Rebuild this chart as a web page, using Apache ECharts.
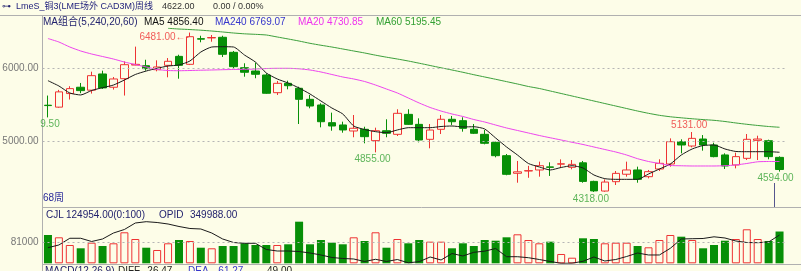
<!DOCTYPE html>
<html><head><meta charset="utf-8">
<script src="https://cdn.jsdelivr.net/npm/echarts@6/dist/echarts.min.js"></script>
<style>html,body{margin:0;padding:0;background:#fdfde8;overflow:hidden}#c{width:801px;height:271px}</style>
</head><body><div id="c"></div>
<script>
// ---- data (weekly LME copper, 68 weeks) ----
const weeks = ['W01','W02','W03','W04','W05','W06','W07','W08','W09','W10','W11','W12','W13','W14','W15','W16','W17','W18','W19','W20','W21','W22','W23','W24','W25','W26','W27','W28','W29','W30','W31','W32','W33','W34','W35','W36','W37','W38','W39','W40','W41','W42','W43','W44','W45','W46','W47','W48','W49','W50','W51','W52','W53','W54','W55','W56','W57','W58','W59','W60','W61','W62','W63','W64','W65','W66','W67','W68'];
const opens  = [5495,5469,5653,5739,5699,5919,5739,5855,6040,6031,5977,6036,6158,6050,6398,6408,6417,6213,6004,5959,5905,5665,5792,5725,5575,5498,5258,5227,5145,5168,5014,5149,5100,5371,5235,5032,5168,5304,5285,5168,5100,4991,4810,4571,4602,4616,4658,4695,4652,4713,4461,4330,4457,4558,4616,4525,4629,4697,5000,4941,5036,4955,4820,4684,4774,5018,5013,4787];
const closes = [5490,5676,5720,5693,5896,5730,5851,6045,6050,5991,6014,6091,6036,6425,6392,6414,6186,6018,5942,5915,5657,5792,5760,5575,5484,5271,5213,5159,5182,5068,5149,5114,5385,5235,5023,5158,5304,5271,5181,5114,4978,4810,4557,4591,4607,4674,4652,4700,4692,4461,4332,4452,4570,4616,4489,4593,4706,5000,4955,5045,4955,4797,4670,4797,5032,5036,4797,4622];
const lows   = [5329.5,5460,5572,5658,5653,5716,5707,5626,6038,5964,5955,5874,5855,6040,6349,6357,6149,5996,5882,5861,5650,5634,5711,5240,5453,5195,5149,5122,5060,4978,4855,5060,5077,5227,4991,4910,5104,5227,5136,5104,4964,4788,4544,4443,4510,4525,4535,4650,4625,4443,4318,4320,4412,4525,4443,4502,4602,4661,4842,4923,4878,4788,4629,4638,4751,4751,4761,4594];
const highs  = [5626,5703,5753,5797,5950,5964,5878,6090,6290,6112,6104,6135,6180,6481,6438,6448,6438,6231,6064,6072,5928,5824,5828,5746,5634,5521,5394,5272,5362,5203,5190,5304,5440,5440,5317,5240,5362,5349,5331,5240,5158,5000,4833,4738,4672,4729,4720,4760,4751,4738,4470,4488,4602,4729,4661,4616,4761,5045,5032,5131,5090,4986,4842,4851,5104,5081,5027,4801];
const ma5  = [5828,5756,5661,5634,5695,5733,5769,5837,5912,5959,5996,6027,6041,6095,6217,6285,6289,6285,6176,6081,5932,5851,5796,5729,5647,5552,5457,5376,5213,5165,5136,5122,5159,5190,5190,5190,5206,5213,5200,5203,5172,5050,4928,4819,4704,4657,4616,4650,4674,4643,4548,4498,4489,4489,4489,4561,4629,4697,4819,4901,4948,4955,4901,4867,4864,4864,4864,4856.4];
const ma20 = [6400,6353,6285,6231,6190,6156,6122,6081,6047,6014,5980,5966,5963,5966,5970,5973,5977,5980,5982,5986,5993,5996,5996,5989,5973,5946,5912,5878,5851,5817,5769,5715,5661,5593,5525,5464,5416,5376,5342,5301,5267,5226,5186,5152,5118,5084,5053,5023,4992,4962,4928,4894,4860,4819,4769,4731,4704,4677,4673,4670,4670,4670,4674,4684,4704,4727,4731,4730.85];
const ma60 = ['-','-','-','-','-','-','-','-','-','-','-',6539,6529,6522,6513,6502,6489,6475,6464,6457,6448,6421,6394,6366,6335,6309,6285,6258,6231,6204,6174,6147,6122,6095,6065,6034,6003,5973,5942,5909,5878,5847,5815,5783,5749,5722,5688,5654,5620,5586,5552,5518,5484,5450,5416,5385,5358,5338,5324,5311,5300,5290,5274,5254,5236,5220,5206,5195.45];
const volumes = [111300,102200,72000,59000,81000,68000,78600,121900,95500,61300,52300,78600,91600,87700,61300,59000,68000,68000,78600,72000,72000,72000,74700,163600,74700,91600,81000,74700,102200,87700,121900,61300,95500,78600,91600,85000,85000,59000,78600,68000,91600,88900,102200,114000,91600,78600,85000,36600,22000,98300,95500,78600,81000,81000,68000,62900,91600,111300,104600,91600,59000,72000,88900,95500,133700,95500,87700,124954];
const opid = [314500,322100,340800,340800,331800,338800,355500,365300,383400,387100,384800,380600,373700,368100,366700,355500,338800,329000,326800,326800,309500,305300,305300,303900,299700,294200,287200,284400,283000,276000,282200,276000,281600,272400,275500,288600,280200,298300,291400,301700,304800,312300,289400,289400,286600,281600,276000,271000,271300,276600,288600,277400,281600,290000,299700,294200,294200,312900,338800,339600,340200,344900,341600,333200,329000,328500,330400,349988];
const priceTicks = [5000, 6000];
const volTicks = [81000];
// marked extremes: index, value, side
const markIdx = [13, 0, 30, 50, 59, 67];
const markSide = ['left', 'bottom', 'bottom', 'bottom', 'top', 'bottom'];

const BG = '#fdfde8', RED = '#ee3333', GRN = '#078f07', TXTG = '#36a336', NAVY = '#22226e';
const FONT = '"Liberation Sans","Noto Sans CJK SC",sans-serif';

const candleData = weeks.map((_, i) => [opens[i], closes[i], lows[i], highs[i]]);
const volData = weeks.map((_, i) => {
  const up = closes[i] >= opens[i];
  return { value: volumes[i], itemStyle: up ? { color: BG, borderColor: RED, borderWidth: 1 } : { color: GRN, borderColor: GRN, borderWidth: 0 } };
});
const markData = markIdx.map((idx, k) => {
  const side = markSide[k];
  const v = side === 'top' || side === 'left' ? highs[idx] : lows[idx];
  let txt = v.toFixed(2);
  let label = { position: side, distance: 2, color: side === 'bottom' ? TXTG : RED, fontSize: 10, fontFamily: FONT, offset: [-3, 0] };
  if (side === 'left') { txt = txt + '←-'; label.offset = [0, 5]; label.distance = 1; }
  if (idx === 0) { txt = txt.slice(-4); label.offset = [2, 0]; }
  if (idx === 67) { label.offset = [-4, 0]; }
  label.formatter = txt;
  return { value: [idx, v], label };
});

const dash = { color: '#b5b5b5', type: [2, 3], width: 1 };
const chart = echarts.init(document.getElementById('c'), null, { renderer: 'canvas' });
const txt = (x, y, text, fill, size) => ({ type: 'text', x, y, silent: true, style: { text, fill, font: (size || 10) + 'px ' + FONT, textVerticalAlign: 'middle', verticalAlign: 'middle' } });
const ln = (x1, y1, x2, y2, c) => ({ type: 'line', silent: true, shape: { x1, y1, x2, y2 }, style: { stroke: c || '#b0b0b0', lineWidth: 1 } });

chart.setOption({
  backgroundColor: BG,
  animation: false,
  grid: [
    { left: 42.5, right: 16, top: 28, height: 178 },
    { left: 42.5, right: 16, top: 221, height: 42.3 }
  ],
  xAxis: [
    { type: 'category', data: weeks, gridIndex: 0, boundaryGap: true, show: false },
    { type: 'category', data: weeks, gridIndex: 1, boundaryGap: true, show: false }
  ],
  yAxis: [
    { type: 'value', gridIndex: 0, min: 4127, max: 6543, show: false },
    { type: 'value', gridIndex: 1, min: 0, max: 166300, show: false },
    { type: 'value', gridIndex: 1, min: 271000, max: 389000, show: false }
  ],
  graphic: [
    ln(0, 15.5, 801, 15.5), ln(42.5, 15, 42.5, 271), ln(42, 207.5, 801, 207.5), ln(42, 264.5, 801, 264.5),
    ln(774.5, 183, 774.5, 207, '#56568e'),
    txt(2, 7, '⊶', NAVY, 9),
    txt(16, 7, 'LmeS_铜3(LME场外 CAD3M)周线', '#1e1e7a', 9),
    txt(162, 7, '4622.00', '#333333', 9),
    txt(213, 7, '0.00 / 0.00%', '#333333', 9),
    txt(43, 22, 'MA组合(5,240,20,60)', NAVY),
    txt(144, 22, 'MA5 4856.40', '#111111'),
    txt(215, 22, 'MA240 6769.07', '#3535cc'),
    txt(298, 22, 'MA20 4730.85', '#ee33ee'),
    txt(376, 22, 'MA60 5195.45', '#33a033'),
    txt(43, 198, '68周', '#2a2a9a'),
    txt(46, 215, 'CJL', NAVY), txt(66, 215, '124954.00(0:100)', NAVY),
    txt(159, 215, 'OPID', NAVY), txt(190, 215, '349988.00', NAVY),
    txt(45, 271, 'MACD(12,26,9)', NAVY), txt(118, 271, 'DIFF', '#222222'), txt(144, 271, '-26.47', '#222222'),
    txt(188, 271, 'DEA', '#3535cc'), txt(215, 271, '-61.27', '#3535cc'), txt(267, 271, '49.00', '#222222')
  ],
  series: [
    {
      type: 'candlestick', xAxisIndex: 0, yAxisIndex: 0, data: candleData, barWidth: 8,
      itemStyle: { color: BG, color0: GRN, borderColor: RED, borderColor0: GRN, borderWidth: 1 },
      markLine: {
        silent: true, symbol: 'none', lineStyle: dash,
        label: { position: 'start', distance: 4, color: '#777777', fontSize: 10, fontFamily: FONT, formatter: p => p.value.toFixed(2) },
        data: priceTicks.map(v => ({ yAxis: v }))
      }
    },
    { type: 'line', xAxisIndex: 0, yAxisIndex: 0, data: ma5, symbol: 'none', smooth: 0.2, lineStyle: { color: '#1a1a1a', width: 1 } },
    { type: 'line', xAxisIndex: 0, yAxisIndex: 0, data: ma20, symbol: 'none', smooth: 0.2, lineStyle: { color: '#ee44ee', width: 1 } },
    { type: 'line', xAxisIndex: 0, yAxisIndex: 0, data: ma60, symbol: 'none', smooth: 0.2, lineStyle: { color: '#3c9f3c', width: 1 } },
    { type: 'scatter', xAxisIndex: 0, yAxisIndex: 0, data: markData, symbolSize: 0, label: { show: true }, z: 5 },
    {
      type: 'bar', xAxisIndex: 1, yAxisIndex: 1, data: volData, barWidth: 8,
      markLine: {
        silent: true, symbol: 'none', lineStyle: dash,
        label: { position: 'start', distance: 4, color: '#777777', fontSize: 10, fontFamily: FONT, formatter: p => String(p.value) },
        data: volTicks.map(v => ({ yAxis: v }))
      }
    },
    { type: 'line', xAxisIndex: 1, yAxisIndex: 2, data: opid, symbol: 'none', lineStyle: { color: '#1a1a1a', width: 1 } }
  ]
});
</script></body></html>
